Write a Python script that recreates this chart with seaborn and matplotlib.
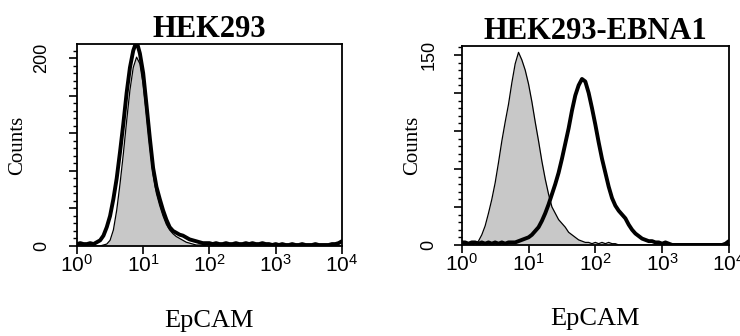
import numpy as np
import matplotlib
matplotlib.use("Agg")
import matplotlib.pyplot as plt
import matplotlib.ticker as mticker
import seaborn as sns

# channel positions, log10 of fluorescence (0.05-decade bins from 10^0 to 10^4)
log_fl = np.linspace(0, 4, 81)

# HEK293: isotype control (grey) and EpCAM (black)
hek_ctrl = [0, 0, 0, 0, 0, 0, 0, 0, 1, 2,
            6, 17, 38, 66, 98, 133, 166, 190, 201, 194,
            172, 140, 106, 76, 56, 43, 32, 23, 17, 13,
            10, 8, 6, 4, 3, 2, 1, 1, 1, 0,
            0, 0, 0, 0, 0, 0, 0, 0, 0, 0,
            0, 0, 0, 0, 0, 0, 0, 0, 0, 0,
            0, 0, 0, 0, 0, 0, 0, 0, 0, 0,
            0, 0, 0, 0, 0, 0, 0, 0, 0, 0, 0]
hek_epcam = [2, 3, 2, 2, 3, 2, 4, 6, 11, 20,
             32, 50, 72, 100, 130, 163, 190, 208, 218, 205,
             184, 150, 115, 83, 63, 50, 38, 28, 20, 16,
             14, 12, 11, 9, 7, 6, 5, 4, 3, 3,
             3, 2, 3, 2, 2, 3, 2, 2, 3, 2,
             2, 3, 2, 3, 2, 2, 3, 2, 2, 1,
             2, 1, 2, 1, 1, 2, 1, 1, 2, 1,
             1, 1, 2, 1, 1, 1, 1, 2, 2, 3, 5]

# HEK293-EBNA1: isotype control (grey) and EpCAM (black)
ebna_ctrl = [0, 0, 0, 0, 1, 3, 8, 15, 25, 36,
             49, 65, 82, 97, 111, 128, 143, 152, 146, 138,
             127, 113, 97, 82, 66, 52, 40, 30, 25, 20,
             17, 14, 10, 8, 6, 4, 3, 2, 2, 1,
             2, 1, 2, 1, 2, 1, 1, 0, 0, 0,
             0, 0, 0, 0, 0, 0, 0, 0, 0, 0,
             0, 0, 0, 0, 0, 0, 0, 0, 0, 0,
             0, 0, 0, 0, 0, 0, 0, 0, 0, 0, 0]
ebna_epcam = [2, 2, 1, 2, 2, 1, 2, 1, 2, 1,
              2, 1, 2, 1, 2, 2, 2, 3, 4, 5,
              6, 8, 11, 14, 19, 25, 32, 40, 48, 57,
              68, 80, 92, 106, 118, 126, 131, 129, 120, 108,
              95, 81, 68, 57, 46, 37, 31, 27, 24, 21,
              16, 12, 9, 7, 5, 4, 3, 3, 2, 2,
              1, 2, 1, 0, 0, 0, 0, 0, 0, 0,
              0, 0, 0, 0, 0, 0, 0, 0, 0, 1, 3]

titles = ["HEK293", "HEK293-EBNA1"]
y_max = [215, 157]
y_labelled = [200, 150]
y_major_step = [40, 30]
y_minor_step = [8, 6]
decades = [1, 10, 100, 1000, 10000]
decade_labels = [r"$10^{0}$", r"$10^{1}$", r"$10^{2}$", r"$10^{3}$", r"$10^{4}$"]

sns.set_style("ticks")
plt.rcParams["font.family"] = ["Liberation Serif", "DejaVu Serif"]
plt.rcParams["mathtext.fontset"] = "custom"
plt.rcParams["mathtext.rm"] = "Liberation Sans"
plt.rcParams["mathtext.it"] = "Liberation Sans"
for key in ["text.color", "axes.labelcolor", "xtick.color", "ytick.color"]:
    plt.rcParams[key] = "black"

fig = plt.figure(figsize=(7.4, 3.36), dpi=100)
axes = [fig.add_axes([0.104, 0.268, 0.358, 0.601]),
        fig.add_axes([0.624, 0.271, 0.361, 0.592])]
label_x = [-0.19, -0.15]
tick_pad = [14, 12]

fl = 10 ** log_fl
panels = [(hek_ctrl, hek_epcam), (ebna_ctrl, ebna_epcam)]

for i, ax in enumerate(axes):
    ctrl, epcam = panels[i]
    ax.set_xscale("log")
    ax.fill_between(fl, ctrl, color="#c8c8c8", lw=0)
    sns.lineplot(x=fl, y=ctrl, color="black", lw=0.9, ax=ax)
    sns.lineplot(x=fl, y=epcam, color="black", lw=2.8, ax=ax)

    ax.set_xlim(1, 10000)
    ax.set_ylim(0, y_max[i])

    # x axis: decades with minor log ticks
    ax.set_xticks(decades)
    ax.set_xticklabels(decade_labels)
    ax.xaxis.set_minor_locator(mticker.LogLocator(base=10, subs=np.arange(2, 10)))
    ax.xaxis.set_minor_formatter(mticker.NullFormatter())

    # y axis: only the ends are labelled
    yt = np.arange(0, y_labelled[i] + 1, y_major_step[i])
    ax.set_yticks(yt)
    ax.set_yticklabels([str(v) if v in (0, y_labelled[i]) else "" for v in yt],
                       rotation=90, va="center", family="Liberation Sans")
    ax.yaxis.set_minor_locator(mticker.MultipleLocator(y_minor_step[i]))

    ax.tick_params(axis="both", which="major", direction="out", length=5.5,
                   width=1.2, labelsize=13, color="black", labelcolor="black")
    ax.tick_params(axis="both", which="minor", direction="out", length=3,
                   width=1.0, color="black")
    ax.tick_params(axis="x", which="major", pad=1, labelsize=15)
    ax.tick_params(axis="y", which="major", pad=tick_pad[i])

    for sp in ax.spines.values():
        sp.set_visible(True)
        sp.set_linewidth(1.3)
        sp.set_color("black")

    ax.set_title(titles[i], fontsize=22, fontweight="bold", pad=3, color="black")
    ax.set_xlabel("EpCAM", fontsize=19, color="black")
    ax.xaxis.set_label_coords(0.5, -0.315)
    ax.set_ylabel("Counts", fontsize=15, color="black")
    ax.yaxis.set_label_coords(label_x[i], 0.5)

plt.savefig("out.png", dpi=100)
